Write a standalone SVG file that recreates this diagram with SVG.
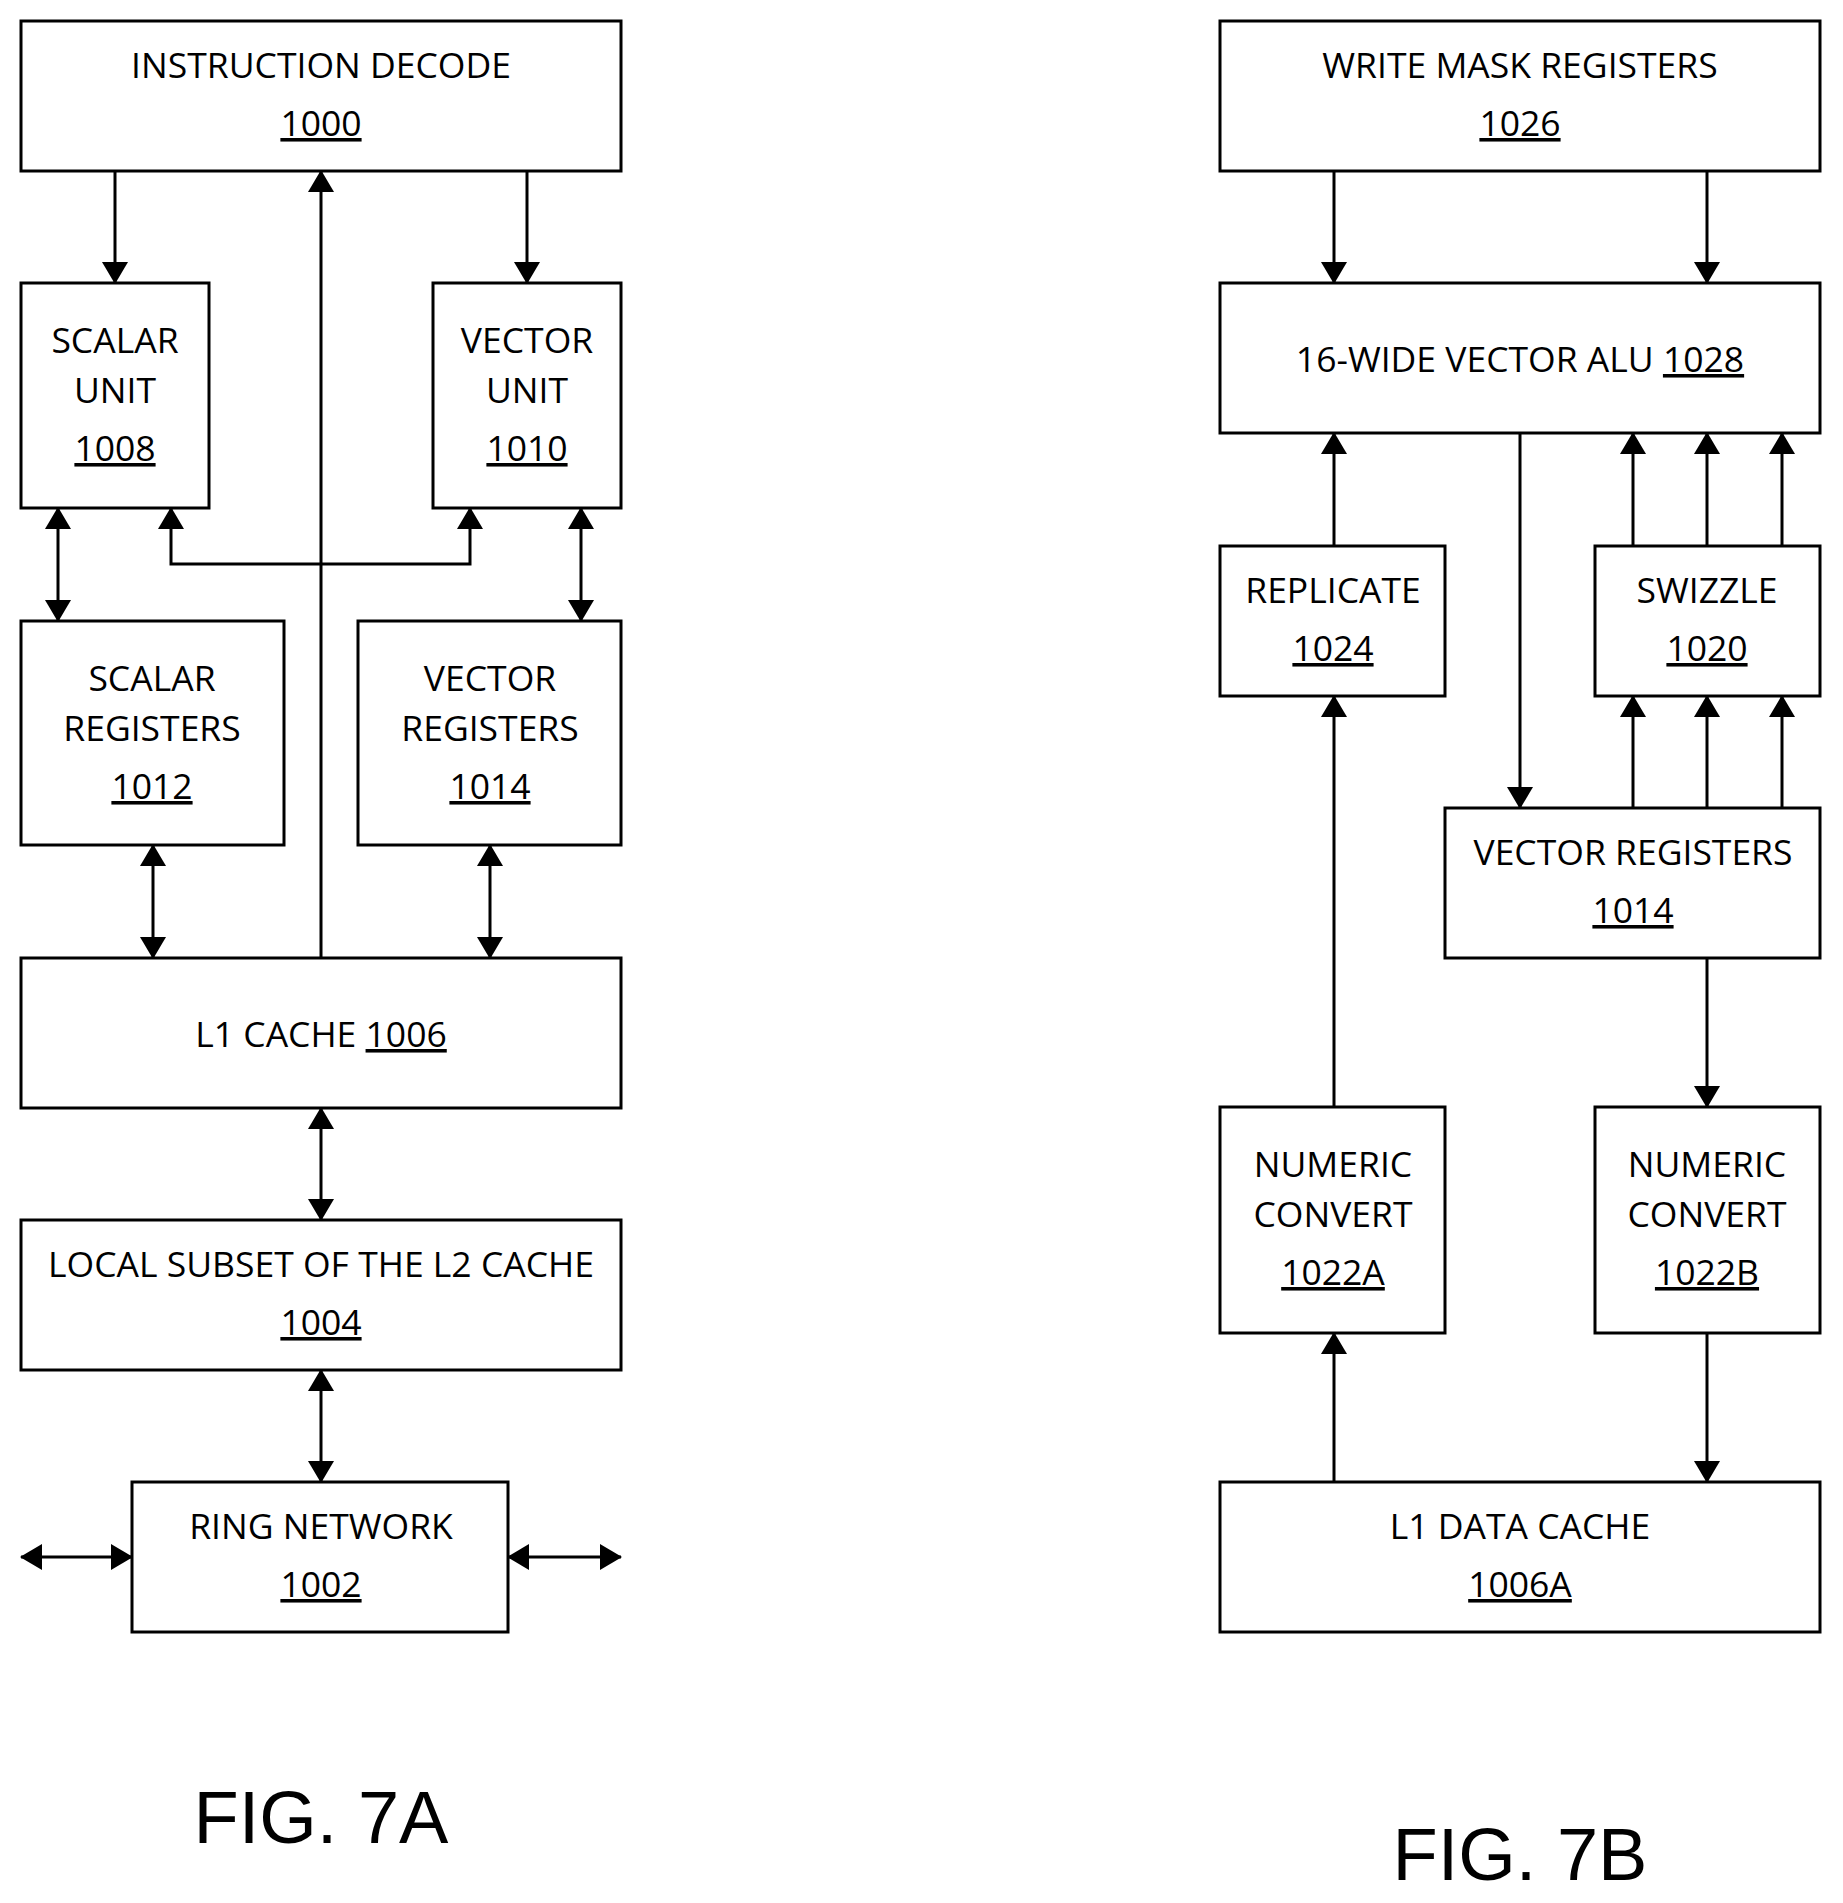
<svg xmlns="http://www.w3.org/2000/svg" width="1843" height="1903" viewBox="0 0 1843 1903">
<style>
.b{fill:#fff;stroke:#000;stroke-width:3}
.t{font-family:"Open Sans","Liberation Sans",sans-serif;font-size:35.5px;text-anchor:middle;fill:#000}
.u{text-decoration:underline}
.c line,.c path{stroke:#000;stroke-width:3;fill:none}
.f{font-family:"Liberation Sans",Arial,sans-serif;font-size:74px;text-anchor:middle;fill:#000}
</style>
<defs>
<marker id="a" markerUnits="userSpaceOnUse" markerWidth="22" markerHeight="26" refX="21" refY="13" orient="auto-start-reverse" viewBox="0 0 22 26">
<path d="M0,0 L22,13 L0,26 z" fill="#000"/>
</marker>
</defs>
<rect width="1843" height="1903" fill="#fff"/>
<g id="n1000"><rect class="b" x="21" y="21" width="600" height="150"/><text class="t" x="321" y="78">INSTRUCTION DECODE</text><text class="t u" x="321" y="136">1000</text></g>
<g id="n1008"><rect class="b" x="21" y="283" width="188" height="225"/><text class="t" x="115" y="353">SCALAR</text><text class="t" x="115" y="403">UNIT</text><text class="t u" x="115" y="461">1008</text></g>
<g id="n1010"><rect class="b" x="433" y="283" width="188" height="225"/><text class="t" x="527" y="353">VECTOR</text><text class="t" x="527" y="403">UNIT</text><text class="t u" x="527" y="461">1010</text></g>
<g id="n1012"><rect class="b" x="21" y="621" width="263" height="224"/><text class="t" x="152" y="691">SCALAR</text><text class="t" x="152" y="741">REGISTERS</text><text class="t u" x="152" y="799">1012</text></g>
<g id="n1014a"><rect class="b" x="358" y="621" width="263" height="224"/><text class="t" x="490" y="691">VECTOR</text><text class="t" x="490" y="741">REGISTERS</text><text class="t u" x="490" y="799">1014</text></g>
<g id="n1006"><rect class="b" x="21" y="958" width="600" height="150"/><text class="t" x="321" y="1047">L1 CACHE <tspan class="u">1006</tspan></text></g>
<g id="n1004"><rect class="b" x="21" y="1220" width="600" height="150"/><text class="t" x="321" y="1277">LOCAL SUBSET OF THE L2 CACHE</text><text class="t u" x="321" y="1335">1004</text></g>
<g id="n1002"><rect class="b" x="132" y="1482" width="376" height="150"/><text class="t" x="321" y="1539">RING NETWORK</text><text class="t u" x="321" y="1597">1002</text></g>
<text class="f" x="321" y="1843">FIG. 7A</text>

<g id="n1026"><rect class="b" x="1220" y="21" width="600" height="150"/><text class="t" x="1520" y="78">WRITE MASK REGISTERS</text><text class="t u" x="1520" y="136">1026</text></g>
<g id="n1028"><rect class="b" x="1220" y="283" width="600" height="150"/><text class="t" x="1520" y="372">16-WIDE VECTOR ALU <tspan class="u">1028</tspan></text></g>
<g id="n1024"><rect class="b" x="1220" y="546" width="225" height="150"/><text class="t" x="1333" y="603">REPLICATE</text><text class="t u" x="1333" y="661">1024</text></g>
<g id="n1020"><rect class="b" x="1595" y="546" width="225" height="150"/><text class="t" x="1707" y="603">SWIZZLE</text><text class="t u" x="1707" y="661">1020</text></g>
<g id="n1014b"><rect class="b" x="1445" y="808" width="375" height="150"/><text class="t" x="1633" y="865">VECTOR REGISTERS</text><text class="t u" x="1633" y="923">1014</text></g>
<g id="n1022a"><rect class="b" x="1220" y="1107" width="225" height="226"/><text class="t" x="1333" y="1177">NUMERIC</text><text class="t" x="1333" y="1227">CONVERT</text><text class="t u" x="1333" y="1285">1022A</text></g>
<g id="n1022b"><rect class="b" x="1595" y="1107" width="225" height="226"/><text class="t" x="1707" y="1177">NUMERIC</text><text class="t" x="1707" y="1227">CONVERT</text><text class="t u" x="1707" y="1285">1022B</text></g>
<g id="n1006a"><rect class="b" x="1220" y="1482" width="600" height="150"/><text class="t" x="1520" y="1539">L1 DATA CACHE</text><text class="t u" x="1520" y="1597">1006A</text></g>
<text class="f" x="1520" y="1880">FIG. 7B</text>

<g class="c" id="connectors">
<line x1="115" y1="171" x2="115" y2="283" marker-end="url(#a)"/>
<line x1="527" y1="171" x2="527" y2="283" marker-end="url(#a)"/>
<line x1="321" y1="958" x2="321" y2="171" marker-end="url(#a)"/>
<line x1="58" y1="508" x2="58" y2="621" marker-start="url(#a)" marker-end="url(#a)"/>
<line x1="581" y1="508" x2="581" y2="621" marker-start="url(#a)" marker-end="url(#a)"/>
<path d="M171,508 V564 H470 V508" marker-start="url(#a)" marker-end="url(#a)"/>
<line x1="153" y1="845" x2="153" y2="958" marker-start="url(#a)" marker-end="url(#a)"/>
<line x1="490" y1="845" x2="490" y2="958" marker-start="url(#a)" marker-end="url(#a)"/>
<line x1="321" y1="1108" x2="321" y2="1220" marker-start="url(#a)" marker-end="url(#a)"/>
<line x1="321" y1="1370" x2="321" y2="1482" marker-start="url(#a)" marker-end="url(#a)"/>
<line x1="21" y1="1557" x2="132" y2="1557" marker-start="url(#a)" marker-end="url(#a)"/>
<line x1="508" y1="1557" x2="621" y2="1557" marker-start="url(#a)" marker-end="url(#a)"/>

<line x1="1334" y1="171" x2="1334" y2="283" marker-end="url(#a)"/>
<line x1="1707" y1="171" x2="1707" y2="283" marker-end="url(#a)"/>
<line x1="1334" y1="546" x2="1334" y2="433" marker-end="url(#a)"/>
<line x1="1633" y1="546" x2="1633" y2="433" marker-end="url(#a)"/>
<line x1="1707" y1="546" x2="1707" y2="433" marker-end="url(#a)"/>
<line x1="1782" y1="546" x2="1782" y2="433" marker-end="url(#a)"/>
<line x1="1520" y1="433" x2="1520" y2="808" marker-end="url(#a)"/>
<line x1="1633" y1="808" x2="1633" y2="696" marker-end="url(#a)"/>
<line x1="1707" y1="808" x2="1707" y2="696" marker-end="url(#a)"/>
<line x1="1782" y1="808" x2="1782" y2="696" marker-end="url(#a)"/>
<line x1="1334" y1="1107" x2="1334" y2="696" marker-end="url(#a)"/>
<line x1="1334" y1="1482" x2="1334" y2="1333" marker-end="url(#a)"/>
<line x1="1707" y1="958" x2="1707" y2="1107" marker-end="url(#a)"/>
<line x1="1707" y1="1333" x2="1707" y2="1482" marker-end="url(#a)"/>
</g>
</svg>
